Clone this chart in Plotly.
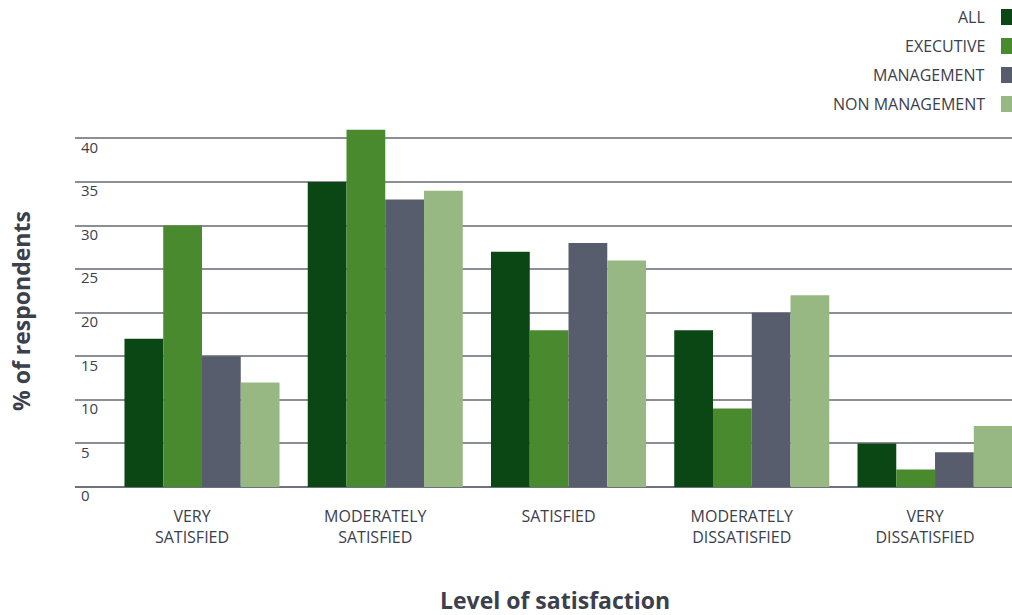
import plotly.graph_objects as go

categories = ["VERY<br>SATISFIED", "MODERATELY<br>SATISFIED", "SATISFIED",
              "MODERATELY<br>DISSATISFIED", "VERY<br>DISSATISFIED"]
series_names = ["ALL", "EXECUTIVE", "MANAGEMENT", "NON MANAGEMENT"]
all_vals = [17, 35, 27, 18, 5]
executive_vals = [30, 41, 18, 9, 2]
management_vals = [15, 33, 28, 20, 4]
non_management_vals = [12, 34, 26, 22, 7]
y_ticks = [0, 5, 10, 15, 20, 25, 30, 35, 40]

colors = ["#0a4714", "#4a8a2e", "#575d6c", "#97b882"]
values = [all_vals, executive_vals, management_vals, non_management_vals]

TEXT = "#3b404c"
FONT = "'Open Sans', Lato, sans-serif"

fig = go.Figure()
for name, vals, col in zip(series_names, values, colors):
    fig.add_trace(go.Bar(x=list(range(len(categories))), y=vals, name=name,
                         marker=dict(color=col, line=dict(width=0)),
                         showlegend=False))

W, H = 1012, 615
ml, mr, mt, mb = 75, 0, 121, 128
pw, ph = W - ml - mr, H - mt - mb


def px_x(x):
    return (x - ml) / pw


def px_y(y):
    return 1 + (mt - y) / ph


fig.update_layout(
    width=W, height=H,
    margin=dict(l=ml, r=mr, t=mt, b=mb, pad=0),
    paper_bgcolor="white", plot_bgcolor="white",
    barmode="group", bargap=0.154, bargroupgap=0,
    font=dict(family=FONT, color=TEXT),
    xaxis=dict(
        tickmode="array", tickvals=list(range(len(categories))), ticktext=categories,
        range=[-0.693, 4.42], showgrid=False, zeroline=False, showline=False,
        ticks="outside", ticklen=15, tickcolor="rgba(0,0,0,0)",
        ticklabelshift=-10,
        tickfont=dict(size=16, color=TEXT, family=FONT),
        automargin=False,
    ),
    yaxis=dict(
        range=[0, 42], tickmode="array", tickvals=y_ticks,
        ticktext=[str(v) for v in y_ticks],
        ticklabelposition="inside", ticklabelshift=9, ticklabelstandoff=3,
        ticklabeloverflow="allow",
        tickfont=dict(size=15, color=TEXT, family=FONT),
        showgrid=True, gridcolor="#8b8e95", gridwidth=2,
        zeroline=True, zerolinecolor="#6e727b", zerolinewidth=2,
        showline=False, layer="below traces", automargin=False,
    ),
)

# axis titles
fig.add_annotation(xref="paper", yref="paper", x=px_x(555), y=px_y(600),
                   text="<b>Level of satisfaction</b>", showarrow=False,
                   xanchor="center", yanchor="middle",
                   font=dict(size=23, color=TEXT, family=FONT))
fig.add_annotation(xref="paper", yref="paper", x=px_x(21), y=px_y(311),
                   text="<b>% of respondents</b>", showarrow=False, textangle=-90,
                   xanchor="center", yanchor="middle",
                   font=dict(size=23, color=TEXT, family=FONT))

# Legend: text right-aligned with swatch on the right
leg_y = [17, 46, 75, 104]
for name, col, yy in zip(series_names, colors, leg_y):
    fig.add_annotation(xref="paper", yref="paper",
                       x=px_x(987), y=px_y(yy),
                       text=name, showarrow=False, xanchor="right", yanchor="middle",
                       font=dict(size=16, color=TEXT, family=FONT))
    fig.add_shape(type="rect", xref="paper", yref="paper",
                  x0=px_x(1001), x1=px_x(1012),
                  y0=px_y(yy - 8), y1=px_y(yy + 8),
                  fillcolor=col, line=dict(width=0))

fig.write_html("out.html")
